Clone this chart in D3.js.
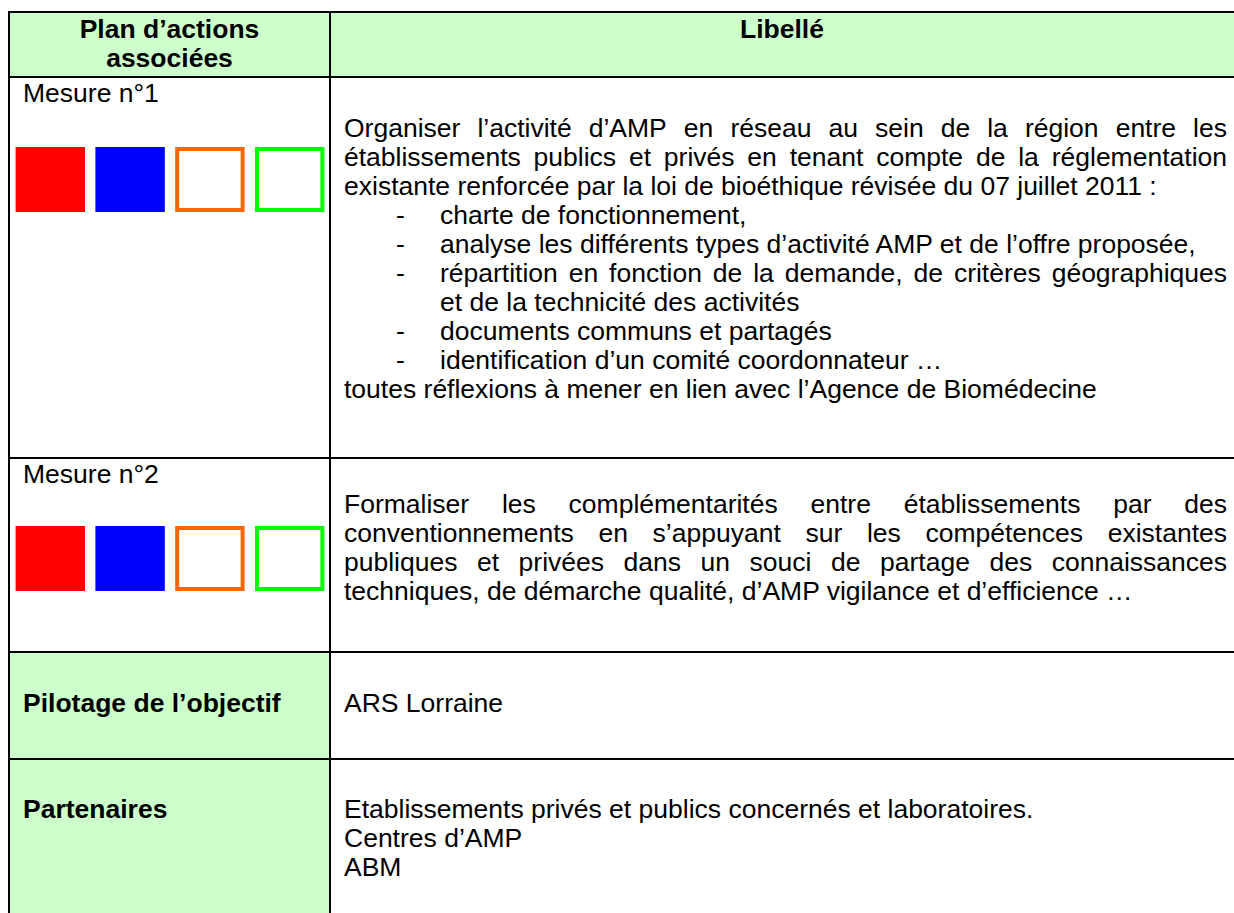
<!DOCTYPE html>
<html>
<head>
<meta charset="utf-8">
<script src="https://cdn.jsdelivr.net/npm/d3@7"></script>
<style>
  html, body { margin: 0; padding: 0; background: #ffffff; }
  svg { display: block; }
  text { font-family: "Liberation Sans", Arial, sans-serif; font-size: 26.5px; fill: #000; }
</style>
</head>
<body>
<svg id="chart" width="1234" height="913"></svg>
<script>
// ---------- DATA ----------
const headerLeft = ["Plan d’actions", "associées"];
const headerRight = ["Libellé"];
const mesureLabels = ["Mesure n°1", "Mesure n°2"];
const squareColors = ["#ff0000", "#0000ff", "#ff6600", "#00ff00"];
const squareFilled = [true, true, false, false];

// kind: "p" paragraph line, "b" bullet line, "c" bullet continuation; j = justified
const mesure1Lines = [
  { kind: "p", j: true,  text: "Organiser l’activité d’AMP en réseau au sein de la région entre les" },
  { kind: "p", j: true,  text: "établissements publics et privés en tenant compte de la réglementation" },
  { kind: "p", j: false, text: "existante renforcée par la loi de bioéthique révisée du 07 juillet 2011 :" },
  { kind: "b", j: false, text: "charte de fonctionnement," },
  { kind: "b", j: false, text: "analyse les différents types d’activité AMP et de l’offre proposée," },
  { kind: "b", j: true,  text: "répartition en fonction de la demande, de critères géographiques" },
  { kind: "c", j: false, text: "et de la technicité des activités" },
  { kind: "b", j: false, text: "documents communs et partagés" },
  { kind: "b", j: false, text: "identification d’un comité coordonnateur …" },
  { kind: "p", j: false, text: "toutes réflexions à mener en lien avec l’Agence de Biomédecine" }
];
const mesure2Lines = [
  { kind: "p", j: true,  text: "Formaliser les complémentarités entre établissements par des" },
  { kind: "p", j: true,  text: "conventionnements en s’appuyant sur les compétences existantes" },
  { kind: "p", j: true,  text: "publiques et privées dans un souci de partage des connaissances" },
  { kind: "p", j: false, text: "techniques, de démarche qualité, d’AMP vigilance et d’efficience …" }
];
const rowLabels = ["Pilotage de l’objectif", "Partenaires"];
const pilotageLines = [{ kind: "p", j: false, text: "ARS Lorraine" }];
const partenairesLines = [
  { kind: "p", j: false, text: "Etablissements privés et publics concernés et laboratoires." },
  { kind: "p", j: false, text: "Centres d’AMP" },
  { kind: "p", j: false, text: "ABM" }
];

// ---------- LAYOUT ----------
const W = 1234, H = 913;
const xLeft = 9, xDiv = 330, xRight = 1234;
const rowEdges = [12, 77, 458, 652, 759, 930];
const green = "#ccffcc";
const lineH = 29;
const textX = 344, textRight = 1227, bulletX = 396, bulletTextX = 440;

const svg = d3.select("#chart");
svg.append("rect").attr("width", W).attr("height", H).attr("fill", "#fff");

// backgrounds
svg.append("rect").attr("x", xLeft).attr("y", rowEdges[0]).attr("width", xRight - xLeft)
  .attr("height", rowEdges[1] - rowEdges[0]).attr("fill", green);
[3, 4].forEach(i => {
  svg.append("rect").attr("x", xLeft).attr("y", rowEdges[i]).attr("width", xDiv - xLeft)
    .attr("height", rowEdges[i + 1] - rowEdges[i]).attr("fill", green);
});

// measuring helper
const meas = svg.append("text").attr("x", -1000).attr("y", -1000);
function wordWidth(w) {
  meas.text(w);
  return meas.node().getComputedTextLength();
}

function drawLines(g, lines, y0) {
  lines.forEach((ln, i) => {
    const y = y0 + i * lineH;
    let x0 = textX;
    if (ln.kind === "b") {
      g.append("text").attr("x", bulletX).attr("y", y).text("-");
      x0 = bulletTextX;
    } else if (ln.kind === "c") {
      x0 = bulletTextX;
    }
    if (!ln.j) {
      g.append("text").attr("x", x0).attr("y", y).text(ln.text);
    } else {
      const words = ln.text.split(" ");
      const widths = words.map(w => wordWidth(w));
      const total = d3.sum(widths);
      const gap = (textRight - x0 - total) / (words.length - 1);
      let x = x0;
      words.forEach((w, k) => {
        g.append("text").attr("x", x).attr("y", y).text(w);
        x += widths[k] + gap;
      });
    }
  });
}

// header text
svg.selectAll("text.hl").data(headerLeft).join("text")
  .attr("class", "hl")
  .attr("x", (xLeft + xDiv) / 2).attr("y", (d, i) => 38 + i * 29)
  .attr("text-anchor", "middle").attr("font-weight", "bold").text(d => d);
svg.selectAll("text.hr").data(headerRight).join("text")
  .attr("class", "hr")
  .attr("x", (xDiv + xRight) / 2).attr("y", 38)
  .attr("text-anchor", "middle").attr("font-weight", "bold").text(d => d);

// mesure labels + squares
const mesureTops = [rowEdges[1], rowEdges[2]];
const sqX = d3.scaleBand().domain(d3.range(squareColors.length)).range([14, 326]).paddingInner(0.13).paddingOuter(0.02);
const squareOffsets = [70, 68];
mesureLabels.forEach((lab, i) => {
  const top = mesureTops[i];
  svg.append("text").attr("x", 23).attr("y", top + 25).text(lab);
  const sy = top + squareOffsets[i];
  const s = sqX.bandwidth();
  svg.selectAll("rect.sq" + i).data(squareColors).join("rect")
    .attr("class", "sq" + i)
    .attr("x", (d, k) => squareFilled[k] ? sqX(k) : sqX(k) + 2)
    .attr("y", (d, k) => squareFilled[k] ? sy : sy + 2)
    .attr("width", (d, k) => squareFilled[k] ? s : s - 4)
    .attr("height", (d, k) => squareFilled[k] ? 65 : 61)
    .attr("fill", (d, k) => squareFilled[k] ? d : "#fff")
    .attr("stroke", (d, k) => squareFilled[k] ? "none" : d)
    .attr("stroke-width", 4);
});

const body = svg.append("g");
drawLines(body, mesure1Lines, 137);
drawLines(body, mesure2Lines, 513);
drawLines(body, pilotageLines, 712);
drawLines(body, partenairesLines, 818);

svg.selectAll("text.rl").data(rowLabels).join("text")
  .attr("class", "rl")
  .attr("x", 23).attr("y", (d, i) => [712, 818][i])
  .attr("font-weight", "bold").text(d => d);

meas.remove();

// grid lines
const grid = svg.append("g").attr("stroke", "#000").attr("stroke-width", 2);
grid.selectAll("line.h").data(rowEdges.slice(0, 5)).join("line")
  .attr("class", "h")
  .attr("x1", xLeft - 1).attr("x2", xRight).attr("y1", d => d).attr("y2", d => d);
grid.append("line").attr("x1", xLeft).attr("x2", xLeft).attr("y1", rowEdges[0] - 1).attr("y2", H);
grid.append("line").attr("x1", xDiv).attr("x2", xDiv).attr("y1", rowEdges[0] - 1).attr("y2", H);
</script>
</body>
</html>
